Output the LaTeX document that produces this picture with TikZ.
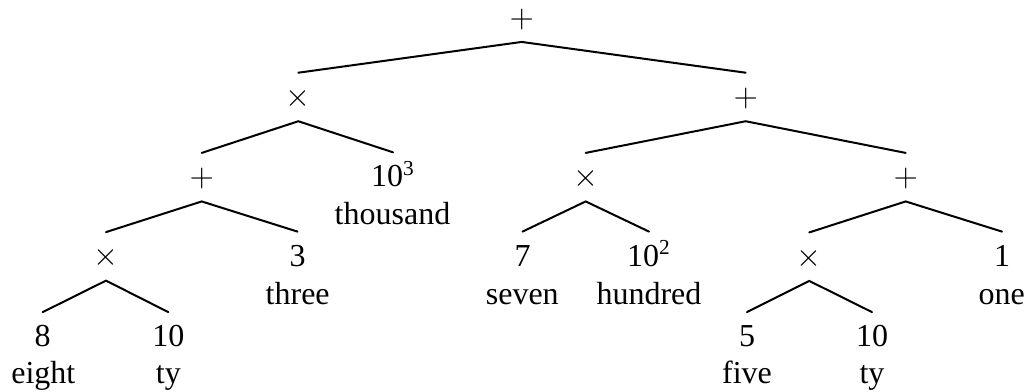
\documentclass[tikz,border=0pt]{standalone}
\usepackage{fontspec}
\setmainfont{Liberation Serif}
\begin{document}
\begin{tikzpicture}[x=0.375pt,y=-0.375pt,
  op/.style={inner sep=0pt, anchor=center, font=\fontsize{12}{14}\selectfont},
  num/.style={inner sep=0pt, anchor=base, font=\fontsize{12}{14}\selectfont},
  word/.style={inner sep=0pt, anchor=base, font=\fontsize{12}{14}\selectfont},
  edge/.style={line width=0.75pt, line cap=round}]
\useasboundingbox (0,0) rectangle (1027,391);
% operators
\node[op] (r) at (521.7,19) {$+$};
\node[op] (a) at (298.3,98.3) {$\times$};
\node[op] (b) at (745.7,98.3) {$+$};
\node[op] (c) at (201.7,178.5) {$+$};
\node[op] (e) at (585.7,178.5) {$\times$};
\node[op] (f) at (905.7,178.5) {$+$};
\node[op] (g) at (106,257.7) {$\times$};
\node[op] (k) at (809.3,258) {$\times$};
% numbers and words
\node[num] (d) at (393,186.7) {10\textsuperscript{3}};
\node[word] (dw) at (392.5,224) {thousand};
\node[num] (h) at (297.5,266) {3};
\node[word] (hw) at (297.7,304) {three};
\node[num] (i) at (522.5,266) {7};
\node[word] (iw) at (522.3,304) {seven};
\node[num] (j) at (649,266) {10\textsuperscript{2}};
\node[word] (jw) at (649,304) {hundred};
\node[num] (l) at (1002,266) {1};
\node[word] (lw) at (1001.7,304) {one};
\node[num] (m) at (42.7,346.5) {8};
\node[word] (mw) at (43.3,383.5) {eight};
\node[num] (n) at (168.3,346.5) {10};
\node[word] (nw) at (168.3,383.5) {ty};
\node[num] (o) at (747,346.5) {5};
\node[word] (ow) at (747,383.5) {five};
\node[num] (p) at (872,346.5) {10};
\node[word] (pw) at (872,383.5) {ty};
% edges
\draw[edge] ([yshift=9.6pt]a.center) -- ([yshift=-8.6pt]r.center) -- ([yshift=9.6pt]b.center);
\draw[edge] ([yshift=9.6pt]c.center) -- ([yshift=-8.6pt]a.center) -- ([yshift=12.9pt]d.base);
\draw[edge] ([yshift=9.6pt]e.center) -- ([yshift=-8.6pt]b.center) -- ([yshift=9.6pt]f.center);
\draw[edge] ([yshift=9.6pt]g.center) -- ([yshift=-8.6pt]c.center) -- ([yshift=12.9pt]h.base);
\draw[edge] ([yshift=12.9pt]i.base) -- ([yshift=-8.6pt]e.center) -- ([yshift=12.9pt]j.base);
\draw[edge] ([yshift=9.6pt]k.center) -- ([yshift=-8.6pt]f.center) -- ([yshift=12.9pt]l.base);
\draw[edge] ([yshift=12.9pt]m.base) -- ([yshift=-8.6pt]g.center) -- ([yshift=12.9pt]n.base);
\draw[edge] ([yshift=12.9pt]o.base) -- ([yshift=-8.6pt]k.center) -- ([yshift=12.9pt]p.base);
\end{tikzpicture}
\end{document}
